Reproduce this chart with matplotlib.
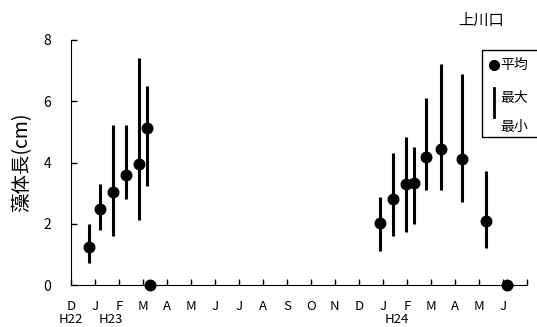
import matplotlib.pyplot as plt
import matplotlib.transforms as mtransforms
from matplotlib.patches import Rectangle
from matplotlib.lines import Line2D

plt.rcParams['font.family'] = ['Noto Sans CJK JP', 'DejaVu Sans']

# 調査時期（H22年12月1日からの月数）
x_pos = [0.76, 1.21, 1.74, 2.29, 2.82, 3.18,
         12.88, 13.42, 13.96, 14.30, 14.82, 15.42, 16.30, 17.29]
mean_len = [1.23, 2.47, 3.03, 3.59, 3.95, 5.14,
            2.02, 2.81, 3.29, 3.34, 4.17, 4.43, 4.11, 2.10]
max_len = [1.99, 3.29, 5.22, 5.22, 7.42, 6.50,
           2.89, 4.30, 4.83, 4.51, 6.10, 7.21, 6.90, 3.72]
min_len = [0.71, 1.80, 1.61, 2.82, 2.12, 3.24,
           1.11, 1.61, 1.74, 2.00, 3.10, 3.10, 2.72, 1.22]
# 藻体が見られなかった時期（0 cm）
zero_pos = [3.29, 18.18]
zero_len = [0, 0]

month_labels = ['D', 'J', 'F', 'M', 'A', 'M', 'J', 'J', 'A', 'S',
                'O', 'N', 'D', 'J', 'F', 'M', 'A', 'M', 'J']
year_labels = ['H22', 'H23', 'H24']
year_pos = [0.0, 1.67, 13.57]

fig = plt.figure(figsize=(5.37, 3.27), dpi=100)
ax = fig.add_axes([0.132, 0.128, 0.849, 0.750])

# 最大・最小の縦線
ax.vlines(x_pos, min_len, max_len, color='black', lw=2.2)
ax.plot(x_pos, mean_len, 'o', color='black', ms=8.6, mew=0)
ax.plot(zero_pos, zero_len, 'o', color='black', ms=8.6, mew=0, clip_on=False, zorder=5)

ax.set_xlim(0, 19)
ax.set_ylim(0, 8)
ax.set_yticks([0, 2, 4, 6, 8])
ax.set_xticks(range(20))
ax.set_xticklabels(month_labels + [''])
ax.tick_params(direction='in', length=4, width=1, labelsize=10)
ax.tick_params(axis='x', pad=11, labelsize=9.5)
ax.tick_params(axis='y', pad=14)
for s in ['top', 'right']:
    ax.spines[s].set_visible(False)
ax.set_ylabel('藻体長(cm)', fontsize=14, labelpad=8)

# 年の表示（x はデータ座標、y は図の下端）
trans = mtransforms.blended_transform_factory(ax.transData, fig.transFigure)
for lab, p in zip(year_labels, year_pos):
    ax.text(p, 0.002, lab, transform=trans, ha='center', va='bottom',
            fontsize=9.5, clip_on=False)

fig.text(0.896, 0.939, '上川口', ha='center', va='center', fontsize=11)

# 凡例（手書き）
fig.patches.append(Rectangle((0.897, 0.581), 0.2, 0.266, transform=fig.transFigure,
                             fill=False, ec='black', lw=1))
fig.lines.append(Line2D([0.919], [0.801], marker='o', color='black', ms=8, mew=0,
                        transform=fig.transFigure))
fig.lines.append(Line2D([0.919, 0.919], [0.642, 0.731], color='black', lw=2,
                        transform=fig.transFigure))
fig.text(0.932, 0.801, '平均', va='center', fontsize=10)
fig.text(0.932, 0.700, '最大', va='center', fontsize=10)
fig.text(0.932, 0.612, '最小', va='center', fontsize=10)

fig.savefig('out.png', dpi=100)
